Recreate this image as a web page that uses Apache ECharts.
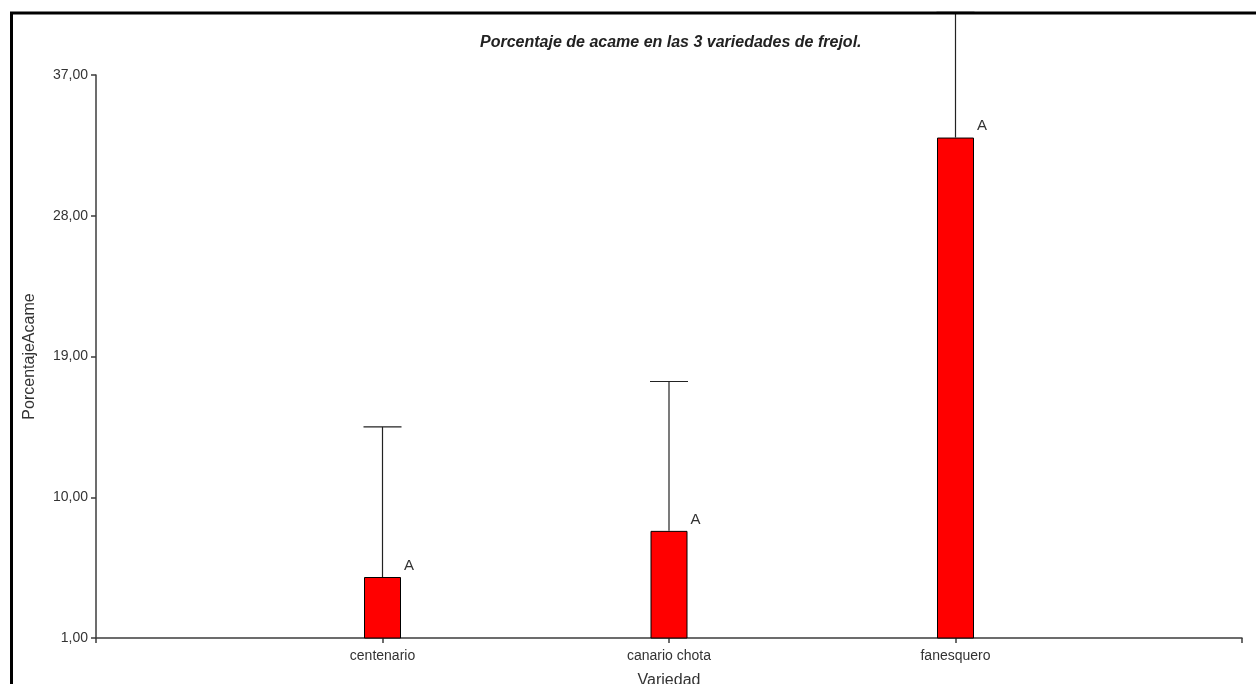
<!DOCTYPE html>
<html><head><meta charset="utf-8">
<script src="https://cdn.jsdelivr.net/npm/echarts@6/dist/echarts.min.js"></script>
<style>html,body{margin:0;padding:0;background:#fff}#c{width:1256px;height:684px}</style>
</head><body><div id="c"></div>
<script>
const categories = ['centenario', 'canario chota', 'fanesquero'];
const means = [4.9, 7.85, 33.0];
const errorUpper = [14.5, 17.4, 41.0];
const letters = ['A', 'A', 'A'];
const yTicks = { min: 1, max: 37, interval: 9 };

// padded category list so the three varieties sit at 1/4, 2/4, 3/4 of the axis
const axisCats = [''].concat(categories, ['']);
const barData = [null].concat(means, [null]);
const errData = categories.map((c, i) => [i + 1, means[i], errorUpper[i]]);

const chart = echarts.init(document.getElementById('c'));
const fontFam = '"Liberation Sans", Arial, sans-serif';
chart.setOption({
  animation: false,
  backgroundColor: '#fff',
  title: {
    text: 'Porcentaje de acame en las 3 variedades de frejol.',
    left: 475, top: 30,
    textStyle: { fontFamily: fontFam, fontSize: 16, fontWeight: 'bold', fontStyle: 'italic', color: '#222' }
  },
  grid: { left: 96, right: 14, top: 75, bottom: 46, containLabel: false, outerBoundsMode: 'none' },
  xAxis: {
    type: 'category', data: axisCats, boundaryGap: false,
    name: 'Variedad', nameLocation: 'middle', nameGap: 35,
    nameTextStyle: { fontFamily: fontFam, fontSize: 16, color: '#333' },
    axisLine: { lineStyle: { color: '#3c3c3c', width: 1.5 } },
    axisTick: { show: true, length: 5, lineStyle: { color: '#3c3c3c', width: 1.5 } },
    axisLabel: { fontFamily: fontFam, fontSize: 14, color: '#333', margin: 11, interval: 0 },
    splitLine: { show: false }
  },
  yAxis: {
    type: 'value', min: yTicks.min, max: yTicks.max, interval: yTicks.interval,
    name: 'PorcentajeAcame', nameLocation: 'middle', nameGap: 58, nameRotate: 90,
    nameTextStyle: { fontFamily: fontFam, fontSize: 16, color: '#333' },
    axisLine: { show: true, lineStyle: { color: '#3c3c3c', width: 1.5 } },
    axisTick: { show: true, length: 5, lineStyle: { color: '#3c3c3c', width: 1.5 } },
    axisLabel: { fontFamily: fontFam, fontSize: 14, color: '#333', margin: 8,
      formatter: v => v.toFixed(2).replace('.', ',') },
    splitLine: { show: false }
  },
  series: [
    {
      type: 'bar', data: barData, barWidth: 37, z: 2,
      itemStyle: { color: '#ff0000', borderColor: '#000', borderWidth: 1 },
      label: {
        show: true, position: [40, -19],
        formatter: p => letters[p.dataIndex - 1] || '',
        fontFamily: fontFam, fontSize: 15, color: '#333'
      }
    },
    {
      type: 'custom', clip: false, z: 3,
      data: errData,
      renderItem: (params, api) => {
        const x = api.value(0);
        const top = api.coord([x, api.value(1)]);
        const hi = api.coord([x, api.value(2)]);
        const half = 19;
        const st = { stroke: '#222', lineWidth: 1.2 };
        return { type: 'group', children: [
          { type: 'line', shape: { x1: top[0], y1: top[1], x2: hi[0], y2: hi[1] }, style: st },
          { type: 'line', shape: { x1: hi[0] - half, y1: hi[1], x2: hi[0] + half, y2: hi[1] }, style: st }
        ]};
      }
    }
  ],
  graphic: [
    { type: 'polyline', z: 100, shape: { points: [[11.5, 684], [11.5, 13], [1256, 13]] },
      style: { stroke: '#000', lineWidth: 3, fill: null } }
  ]
});
</script></body></html>
